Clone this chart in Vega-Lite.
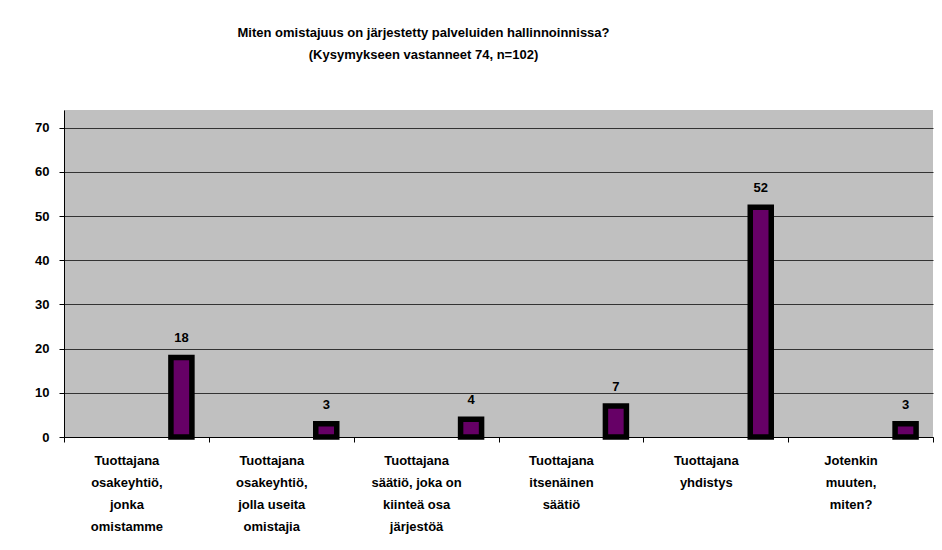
{
  "$schema": "https://vega.github.io/schema/vega-lite/v6.json",
  "autosize": "none",
  "width": 869,
  "height": 327,
  "padding": {"left": 64, "top": 110, "right": 9, "bottom": 113},
  "background": "white",
  "title": {
    "text": ["Miten omistajuus on järjestetty palveluiden hallinnoinnissa?", "(Kysymykseen vastanneet 74, n=102)"],
    "font": "Liberation Sans",
    "fontSize": 13,
    "fontWeight": "bold",
    "lineHeight": 22,
    "anchor": "middle",
    "dx": -75,
    "offset": 48,
    "color": "black"
  },
  "data": {
    "values": [
      {"k": "Tuottajana|osakeyhtiö,|jonka|omistamme", "n": 18},
      {"k": "Tuottajana|osakeyhtiö,|jolla useita|omistajia", "n": 3},
      {"k": "Tuottajana|säätiö, joka on|kiinteä osa|järjestöä", "n": 4},
      {"k": "Tuottajana|itsenäinen|säätiö", "n": 7},
      {"k": "Tuottajana|yhdistys", "n": 52},
      {"k": "Jotenkin|muuten,|miten?", "n": 3}
    ]
  },
  "encoding": {
    "x": {
      "field": "k", "type": "nominal", "sort": null, "title": null,
      "scale": {"paddingInner": 0, "paddingOuter": 0},
      "axis": {
        "labelExpr": "split(datum.label, '|')",
        "labelAngle": 0,
        "labelFont": "Liberation Sans",
        "labelFontSize": 13,
        "labelFontWeight": "bold",
        "labelColor": "black",
        "labelLineHeight": 22,
        "labelPadding": 12,
        "labelBaseline": "top",
        "labelOffset": -10,
        "tickBand": "extent",
        "tickSize": 5,
        "tickColor": "black",
        "domainColor": "black",
        "domainWidth": 1,
        "grid": false
      }
    },
    "y": {
      "field": "n", "type": "quantitative", "title": null,
      "scale": {"domain": [0, 74], "nice": false},
      "axis": {
        "values": [0, 10, 20, 30, 40, 50, 60, 70],
        "labelFont": "Liberation Sans",
        "labelFontSize": 13,
        "labelFontWeight": "bold",
        "labelColor": "black",
        "labelPadding": 10,
        "tickSize": 5,
        "tickColor": "black",
        "domainColor": "black",
        "grid": true,
        "gridColor": "#333333",
        "gridWidth": 1
      }
    }
  },
  "layer": [
    {
      "mark": {"type": "bar", "width": 21, "xOffset": 45, "fill": "#660066", "stroke": "black", "strokeWidth": 5.5}
    },
    {
      "mark": {"type": "text", "xOffset": 45, "dy": -12, "baseline": "bottom", "font": "Liberation Sans", "fontSize": 13, "fontWeight": "bold", "color": "black"},
      "encoding": {"text": {"field": "n", "type": "quantitative"}}
    }
  ],
  "config": {
    "view": {"fill": "#c0c0c0", "stroke": null}
  }
}
